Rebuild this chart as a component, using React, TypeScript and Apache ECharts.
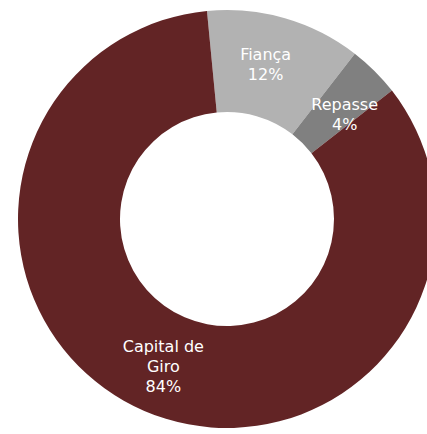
import React, { useEffect, useRef } from "react";
import * as echarts from "echarts";

const categories = ["Fiança", "Repasse", "Capital de Giro"];
const values = [12, 4, 84];
const colors = ["#b2b2b2", "#808080", "#622425"];
const labelPaddings = [
  [0, 12, 4, 0],
  [0, 0, 0, 8],
  [0, 0, 0, 0],
];

export default function App() {
  const ref = useRef<HTMLDivElement>(null);
  useEffect(() => {
    if (!ref.current) return;
    const chart = echarts.init(ref.current, null, { renderer: "svg" });
    chart.setOption({
      animation: false,
      series: [
        {
          type: "pie",
          center: [227, 219],
          radius: [107, 209],
          startAngle: 95.5,
          clockwise: true,
          avoidLabelOverlap: false,
          silent: true,
          data: categories.map((c, i) => ({
            name: c,
            value: values[i],
            itemStyle: { color: colors[i] },
            label: { padding: labelPaddings[i] },
          })),
          itemStyle: { borderWidth: 0 },
          label: {
            show: true,
            position: "inside",
            color: "#ffffff",
            fontFamily: "DejaVu Sans",
            fontSize: 16,
            lineHeight: 20,
            formatter: (p: any) =>
              (p.name === "Repasse" ? " \n" : "") +
              p.name.replace("Capital de ", "Capital de\n") +
              "\n" +
              Math.round(p.percent) +
              "%",
          },
          labelLine: { show: false },
        },
      ],
    });
    return () => chart.dispose();
  }, []);
  return (
    <div
      ref={ref}
      style={{ position: "fixed", left: 0, top: 0, width: 427, height: 434, background: "#ffffff" }}
    />
  );
}
